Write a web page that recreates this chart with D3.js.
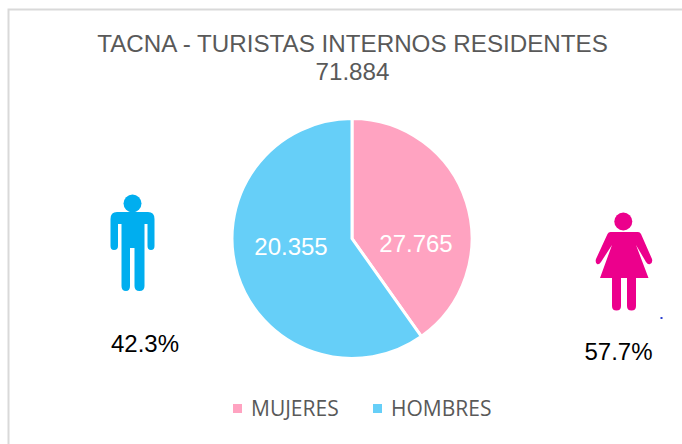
<!DOCTYPE html>
<html><head><meta charset="utf-8">
<script src="https://cdnjs.cloudflare.com/ajax/libs/d3/7.8.5/d3.min.js"></script>
<style>html,body{margin:0;padding:0;background:#fff}svg{display:block}text{font-family:"Liberation Sans",Arial,sans-serif}</style>
</head><body><svg id="c" width="682" height="444"></svg>
<script>
const titleLines = ["TACNA - TURISTAS INTERNOS RESIDENTES", "71.884"];
const categories = ["MUJERES", "HOMBRES"];
const sliceShares = [40.2, 59.8];            // share of the circle as drawn in the picture
const sliceLabels = ["27.765", "20.355"];    // printed labels
const colors = ["#FFA3C1", "#66CFF8"];
const percentLabels = ["42.3%", "57.7%"];

const svg = d3.select("#c");
svg.append("path").attr("d","M8.5 444V9.5H682").attr("fill","none").attr("stroke","#d9d9d9").attr("stroke-width",2);

svg.selectAll("text.t").data(titleLines).join("text").attr("class","t")
  .attr("x",352.5).attr("y",(d,i)=>i?80:52).attr("text-anchor","middle")
  .attr("font-size",24.2).attr("fill","#595959").text(d=>d);

const cx=352, cy=238.5, R=120;
const pie=d3.pie().sort(null).value(d=>d)(sliceShares);
const arc=d3.arc().innerRadius(0).outerRadius(R);
const g=svg.append("g").attr("transform",`translate(${cx},${cy})`);
g.selectAll("path").data(pie).join("path").attr("d",arc)
  .attr("fill",(d,i)=>colors[i]).attr("stroke","#fff").attr("stroke-width",3);
const labelX=d3.scalePoint().domain(categories).range([64,-61]);
g.selectAll("text").data(pie).join("text")
  .attr("x",(d,i)=>labelX(categories[i])).attr("y",(d,i)=>i?16:13)
  .attr("text-anchor","middle").attr("font-size",24).attr("fill","#fff")
  .text((d,i)=>sliceLabels[i]);

// pictograms
svg.append("filter").attr("id","b").append("feGaussianBlur").attr("stdDeviation",0.5);
const man=svg.append("g").attr("fill","#00AEEF").attr("filter","url(#b)");
man.append("circle").attr("cx",132.5).attr("cy",203.5).attr("r",9);
man.append("path").attr("d","M117 212H148Q154.5 212 154.5 219V246Q154.5 250 151 250Q147.5 250 147.5 246V224H144.5V286Q144.5 291 139.5 291Q134.5 291 134.5 286V248H130V286Q130 291 126 291Q121.5 291 121.5 286V224H118V246Q118 250 114 250Q110.5 250 110.5 246V219Q110.5 212 117 212Z");
const woman=svg.append("g").attr("fill","#EC008C").attr("filter","url(#b)");
woman.append("circle").attr("cx",623.3).attr("cy",221.5).attr("r",9);
woman.append("path").attr("d","M610.5 232H638Q640 232 641 234L652 259Q653 263 650 264Q648 265 646 262L636 245L648.5 278H636V306Q636 310.5 631.5 310.5Q627 310.5 627 306V278H621V306Q621 310.5 616.5 310.5Q612 310.5 612 306V278H600L612 245L601 262Q599 265 597 264Q595 262 596 259L607.5 234Q608.5 232 610.5 232Z");
svg.append("rect").attr("x",660.5).attr("y",317).attr("width",2).attr("height",2).attr("fill","#2a3fd0");

svg.selectAll("text.p").data(percentLabels).join("text").attr("class","p")
  .attr("x",(d,i)=>i?618.5:145).attr("y",(d,i)=>i?360:352).attr("text-anchor","middle")
  .attr("font-size",24).attr("fill","#000").text(d=>d);

// legend
const lx=[233,373], tx=[251,391];
svg.selectAll("rect.l").data(categories).join("rect").attr("class","l")
  .attr("x",(d,i)=>lx[i]).attr("y",404).attr("width",9).attr("height",9).attr("fill",(d,i)=>colors[i]);
svg.selectAll("text.l").data(categories).join("text").attr("class","l")
  .attr("x",(d,i)=>tx[i]).attr("y",416).attr("font-size",21).attr("fill","#595959")
  .style("font-family","'Open Sans',sans-serif").text(d=>d);
</script></body></html>
